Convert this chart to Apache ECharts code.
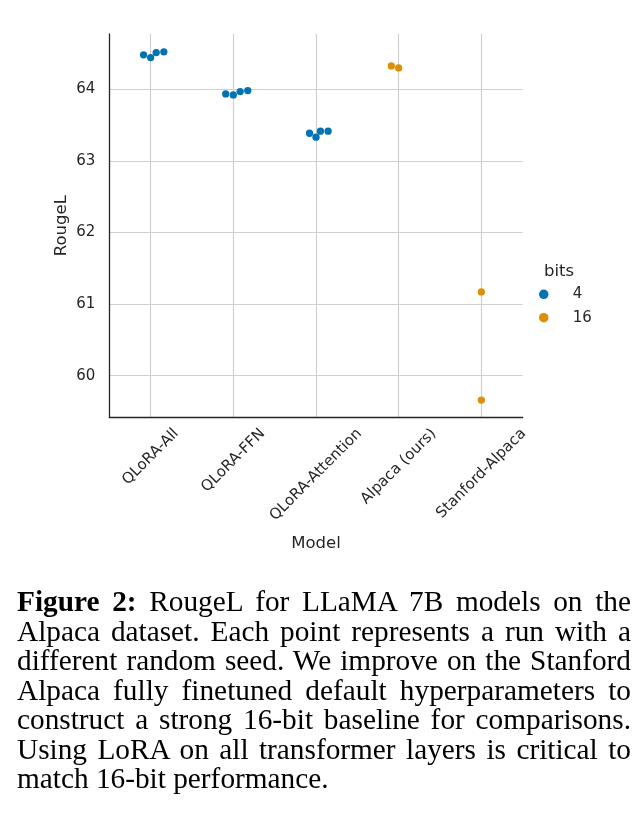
<!DOCTYPE html>
<html>
<head>
<meta charset="utf-8">
<script src="https://cdn.jsdelivr.net/npm/echarts@6/dist/echarts.min.js"></script>
<style>
html, body { margin: 0; padding: 0; background: #fff; }
#chart { position: absolute; left: 0; top: 0; width: 639px; height: 825px; }
#caption { position: absolute; left: 17px; top: 587px; width: 614px;
  font-family: "Liberation Serif", "Times New Roman", serif; font-size: 29.3px;
  line-height: 29.5px; color: #000; }
#caption .j { text-align: justify; text-align-last: justify; }
#caption .l { text-align: left; }
</style>
</head>
<body>
<div id="chart"></div>
<div id="caption">
  <div class="j"><b>Figure 2:</b> RougeL for LLaMA 7B models on the</div>
  <div class="j">Alpaca dataset. Each point represents a run with a</div>
  <div class="j">different random seed. We improve on the Stanford</div>
  <div class="j">Alpaca fully finetuned default hyperparameters to</div>
  <div class="j">construct a strong 16-bit baseline for comparisons.</div>
  <div class="j">Using LoRA on all transformer layers is critical to</div>
  <div class="l">match 16-bit performance.</div>
</div>
<script>
// ---------------- data ----------------
const models = ['QLoRA-All', 'QLoRA-FFN', 'QLoRA-Attention', 'Alpaca (ours)', 'Stanford-Alpaca'];
const modelBits = ['4', '4', '4', '16', '16'];
const bitLevels = ['4', '16'];
const rougeQLoRAAll = [64.479, 64.441, 64.511, 64.521];
const rougeQLoRAFFN = [63.934, 63.920, 63.966, 63.980];
const rougeQLoRAAttention = [63.385, 63.330, 63.413, 63.413];
const rougeAlpacaOurs = [64.325, 64.297];
const rougeStanfordAlpaca = [61.17, 59.66];
const yTicks = [60, 61, 62, 63, 64];

// ---------------- layout / style ----------------
const W = 639, H = 825;
const GRID = { left: 109.3, right: W - 522.7, top: 34, bottom: H - 417.3 };
const Y_MIN = 59.42, Y_MAX = 64.77;
const X_MIN = -0.5, X_MAX = 4.5;
const DOT = 7.3;
const COLORS = { '4': '#0173b2', '16': '#de8f05' };
const TEXT = '#262626';
const FONT = '"DejaVu Sans", sans-serif';
const TICK_FS = 15;
const GRID_LINE = { color: '#d0d0d0', width: 1.2 };

const runs = [rougeQLoRAAll, rougeQLoRAFFN, rougeQLoRAAttention, rougeAlpacaOurs, rougeStanfordAlpaca];

const gridW = W - GRID.left - GRID.right;
const gridH = H - GRID.top - GRID.bottom;
const pxPerY = gridH / (Y_MAX - Y_MIN);
const pxPerX = gridW / (X_MAX - X_MIN);

// seaborn-like beeswarm: offsets (in category units) to avoid overlaps
function swarm(values) {
  const order = values.map((v, i) => i).sort((a, b) => values[a] - values[b]);
  const placed = [];
  const out = new Array(values.length);
  for (const i of order) {
    const y = values[i] * pxPerY;
    const cands = [0];
    for (const p of placed) {
      const dy = y - p.y;
      if (Math.abs(dy) < DOT) {
        const dx = Math.sqrt(DOT * DOT - dy * dy) * 1.05;
        cands.push(p.x - dx, p.x + dx);
      }
    }
    const sorted = cands.map((c, k) => [c, k]).sort((a, b) => Math.abs(a[0]) - Math.abs(b[0]) || a[1] - b[1]);
    let chosen = 0;
    for (const [c] of sorted) {
      const ok = placed.every(p => (c - p.x) ** 2 + (y - p.y) ** 2 >= DOT * DOT - 1e-6);
      if (ok) { chosen = c; break; }
    }
    placed.push({ x: chosen, y });
    out[i] = chosen / pxPerX;
  }
  return out;
}

const seriesData = { '4': [], '16': [] };
runs.forEach((vals, mi) => {
  const offs = swarm(vals);
  vals.forEach((v, k) => seriesData[modelBits[mi]].push([mi + offs[k], v]));
});

// rotated x labels: centre each label's bounding box on its tick (matplotlib style)
const ctx = document.createElement('canvas').getContext('2d');
ctx.font = TICK_FS + 'px ' + FONT;
const rich = {};
models.forEach((m, i) => {
  const L = ctx.measureText(m).width;
  const p = L / 2;
  rich['r' + i] = { fontSize: TICK_FS, fontFamily: FONT, color: TEXT, padding: [p, p, 0, 0] };
});

const chart = echarts.init(document.getElementById('chart'), null, { renderer: 'canvas' });
chart.setOption({
  animation: false,
  backgroundColor: '#fff',
  textStyle: { fontFamily: FONT },
  title: [{
    text: 'bits', left: 544, top: 263, padding: 0,
    textStyle: { fontSize: 16.5, fontWeight: 'normal', color: TEXT, fontFamily: FONT }
  }],
  legend: {
    data: bitLevels,
    orient: 'vertical',
    left: 539, top: 286.8,
    padding: 0,
    itemWidth: 48, itemHeight: 9.5, itemGap: 8.4,
    icon: 'circle',
    textStyle: { fontSize: TICK_FS, color: TEXT, fontFamily: FONT }
  },
  grid: { left: GRID.left, right: GRID.right, top: GRID.top, bottom: GRID.bottom, containLabel: false },
  xAxis: {
    type: 'value', min: X_MIN, max: X_MAX, minInterval: 1, maxInterval: 1,
    name: 'Model', nameLocation: 'middle', nameGap: 118, nameMoveOverlap: false,
    nameTextStyle: { fontSize: 16.5, color: TEXT, fontFamily: FONT },
    axisLine: { show: true, onZero: false, lineStyle: { color: '#262626', width: 1.3 } },
    axisTick: { show: false },
    splitLine: { show: true, showMinLine: false, showMaxLine: false, lineStyle: GRID_LINE },
    axisLabel: {
      rotate: 45, align: 'center', verticalAlign: 'middle', margin: 14,
      formatter: v => {
        const i = Math.round(v);
        if (Math.abs(v - i) > 1e-6 || i < 0 || i >= models.length) return '';
        return '{r' + i + '|' + models[i] + '}';
      },
      rich
    }
  },
  yAxis: {
    type: 'value', min: Y_MIN, max: Y_MAX, minInterval: 1, maxInterval: 1,
    name: 'RougeL', nameLocation: 'middle', nameGap: 39, nameMoveOverlap: false,
    nameTextStyle: { fontSize: 16.5, color: TEXT, fontFamily: FONT },
    axisLine: { show: true, onZero: false, lineStyle: { color: '#262626', width: 1.3 } },
    axisTick: { show: false },
    splitLine: { show: true, showMinLine: false, showMaxLine: false, lineStyle: GRID_LINE },
    axisLabel: {
      margin: 14, fontSize: TICK_FS, color: TEXT, fontFamily: FONT,
      formatter: v => {
        const r = Math.round(v);
        return (Math.abs(v - r) < 1e-6 && yTicks.includes(r)) ? String(r) : '';
      }
    }
  },
  series: bitLevels.map(b => ({
    name: b,
    type: 'scatter',
    symbol: 'circle',
    symbolSize: DOT,
    itemStyle: { color: COLORS[b], opacity: 1 },
    data: seriesData[b],
    z: 3
  }))
});
</script>
</body>
</html>
